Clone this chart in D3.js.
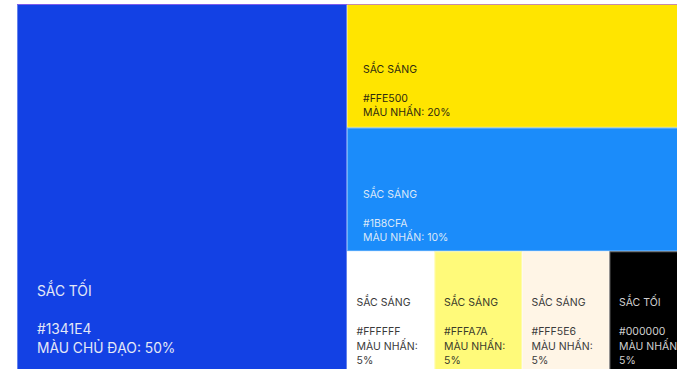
<!DOCTYPE html>
<html>
<head>
<meta charset="utf-8">
<script src="https://cdn.jsdelivr.net/npm/d3@7/dist/d3.min.js"></script>
<style>
  html, body { margin: 0; padding: 0; background: #fff; overflow: hidden; }
  svg { display: block; }
  text { font-family: Inter, "Noto Sans", sans-serif; }
</style>
</head>
<body>
<svg id="chart" width="677" height="369"></svg>
<script>
// ---- data ----
const shades = ["SẮC TỐI", "SẮC SÁNG", "SẮC SÁNG", "SẮC SÁNG", "SẮC SÁNG", "SẮC SÁNG", "SẮC TỐI"];
const hexCodes = ["#1341E4", "#FFE500", "#1B8CFA", "#FFFFFF", "#FFFA7A", "#FFF5E6", "#000000"];
const roles = ["MÀU CHỦ ĐẠO", "MÀU NHẤN", "MÀU NHẤN", "MÀU NHẤN", "MÀU NHẤN", "MÀU NHẤN", "MÀU NHẤN"];
const shares = [50, 20, 10, 5, 5, 5, 5];
const textColors = ["#E4E8F6", "#2E2A10", "#DCE8F8", "#3A3A3A", "#3A3A2A", "#3A3A3A", "#D0D0D0"];

const items = shares.map((v, i) => ({
  i, shade: shades[i], hex: hexCodes[i], role: roles[i], share: v, color: textColors[i]
}));

const svg = d3.select("#chart");
const cLeft = 17, cTop = 4, cRight = 697, cBottom = 375;

// main column vs accent column
const xMain = d3.scaleLinear().domain([0, 1]).range([cLeft, cRight]);
const split = 0.4853;
// accent rows by share level
const levels = ["20", "10", "5"];
const yRow = d3.scaleBand().domain(levels).range([cTop, cBottom]);
// small swatches along the bottom row
const small = items.filter(d => d.share === 5);
const xSmall = d3.scaleBand().domain(small.map(d => d.i)).range([xMain(split), cRight]);

items.forEach(d => {
  if (d.share === 50) {
    d.x0 = xMain(0); d.x1 = xMain(split); d.y0 = cTop; d.y1 = cBottom;
    d.fs = 13.8; d.lh = 19; d.pad = 22; d.px = 20;
  } else if (d.share === 5) {
    d.x0 = xSmall(d.i); d.x1 = d.x0 + xSmall.bandwidth();
    d.y0 = yRow("5"); d.y1 = d.y0 + yRow.bandwidth();
    d.fs = 10.5; d.lh = 14.4; d.pad = 11; d.px = 9.5;
  } else {
    d.x0 = xMain(split); d.x1 = cRight;
    d.y0 = yRow(String(d.share)); d.y1 = d.y0 + yRow.bandwidth();
    d.fs = 10.5; d.lh = 14.5; d.pad = d.share === 20 ? 11.5 : 10; d.px = 16;
  }
});

const cells = svg.selectAll("g.cell").data(items).join("g").attr("class", "cell");

cells.append("rect")
  .attr("x", d => d.x0).attr("y", d => d.y0)
  .attr("width", d => d.x1 - d.x0).attr("height", d => d.y1 - d.y0)
  .attr("fill", d => d.hex);

// thin separators
cells.append("rect")
  .attr("x", d => d.x0 + 0.5).attr("y", d => d.y0 + 0.5)
  .attr("width", d => d.x1 - d.x0 - 1).attr("height", d => d.y1 - d.y0 - 1)
  .attr("fill", "none").attr("stroke", "rgba(255,255,255,0.35)").attr("stroke-width", 1);

// top edge tint
svg.append("line")
  .attr("x1", cLeft).attr("x2", cRight).attr("y1", cTop + 0.5).attr("y2", cTop + 0.5)
  .attr("stroke", "rgba(150,60,235,0.55)").attr("stroke-width", 1);

// labels
cells.each(function(d) {
  const g = d3.select(this);
  const avail = d.x1 - d.x0 - 2 * d.px;
  const probe = g.append("text").attr("font-size", d.fs).attr("visibility", "hidden");
  const words = (d.role + ": " + d.share + "%").split(" ");
  const wrapped = [];
  let cur = "";
  words.forEach(w => {
    const test = cur ? cur + " " + w : w;
    probe.text(test);
    if (probe.node().getComputedTextLength() > avail && cur) {
      wrapped.push(cur); cur = w;
    } else cur = test;
  });
  wrapped.push(cur);
  probe.remove();

  const lines = [d.shade, "", d.hex].concat(wrapped);
  const n = lines.length;
  const baseBottom = d.y1 - d.pad;
  g.selectAll("text.lbl").data(lines).join("text")
    .attr("class", "lbl")
    .attr("x", d.x0 + d.px)
    .attr("y", (t, k) => baseBottom - (n - 1 - k) * d.lh)
    .attr("font-size", d.fs)
    .attr("fill", d.color)
    .text(t => t);
});
</script>
</body>
</html>
